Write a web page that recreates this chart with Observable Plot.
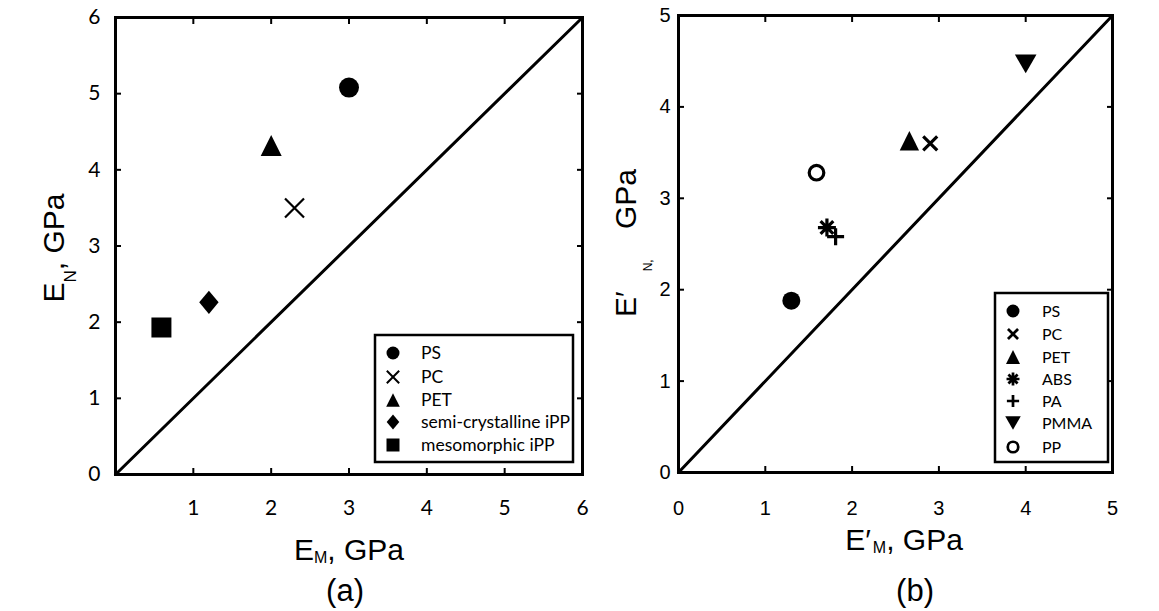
<!DOCTYPE html>
<html><head><meta charset="utf-8">
<script src="https://cdn.jsdelivr.net/npm/d3@7"></script>
<script src="https://cdn.jsdelivr.net/npm/@observablehq/plot@0.6"></script>
<style>
body{margin:0;background:#fff;}
#wrap{position:relative;width:1159px;height:611px;display:flex;overflow:hidden;}
#wrap svg{flex:none;overflow:visible;}
#pa g[aria-label$="tick label"] text{font-size:21px !important;font-family:Lato,'Open Sans',sans-serif !important;}
#pb g[aria-label$="tick label"] text{font-size:20px !important;font-family:'Liberation Sans',Arial,sans-serif !important;}
</style></head><body><div id="wrap"></div>
<script>
// ---------- Panel (a) data ----------
const namesA = ["PS", "PC", "PET", "semi-crystalline iPP", "mesomorphic iPP"];
const emA = [3.0, 2.3, 2.0, 1.2, 0.59];      // E_M, GPa
const enA = [5.08, 3.5, 4.32, 2.26, 1.93];    // E_N, GPa
const xDomainA = [0, 6];
const yDomainA = [0, 6];
const xTicksA = [1, 2, 3, 4, 5, 6];
const yTicksA = [0, 1, 2, 3, 4, 5, 6];

// ---------- Panel (b) data ----------
const namesB = ["PS", "PC", "PET", "ABS", "PA", "PMMA", "PP"];
const emB = [1.30, 2.90, 2.66, 1.71, 1.81, 4.00, 1.59];   // E'_M, GPa
const enB = [1.88, 3.60, 3.63, 2.68, 2.58, 4.47, 3.28];   // E'_N, GPa
const xDomainB = [0, 5];
const yDomainB = [0, 5];
const xTicksB = [0, 1, 2, 3, 4, 5];
const yTicksB = [0, 1, 2, 3, 4, 5];

// ---------- custom marker shapes (size = PI r^2, r = half width) ----------
const mk = fn => ({draw(c, size) { const r = Math.sqrt(size / Math.PI); fn(c, r); }});
const SYM = {
  circle: mk((c, r) => { c.moveTo(r, 0); c.arc(0, 0, r, 0, 2 * Math.PI); }),
  square: mk((c, r) => { c.rect(-r, -r, 2 * r, 2 * r); }),
  triUp: mk((c, r) => { c.moveTo(0, -r); c.lineTo(r, r); c.lineTo(-r, r); c.closePath(); }),
  triDown: mk((c, r) => { const h = 0.87 * r; c.moveTo(-r, -h); c.lineTo(r, -h); c.lineTo(0, h); c.closePath(); }),
  diamond: mk((c, r) => { c.moveTo(0, -1.2 * r); c.lineTo(r, 0); c.lineTo(0, 1.2 * r); c.lineTo(-r, 0); c.closePath(); }),
  times: mk((c, r) => { c.moveTo(-r, -r); c.lineTo(r, r); c.moveTo(-r, r); c.lineTo(r, -r); }),
  plus: mk((c, r) => { c.moveTo(-r, 0); c.lineTo(r, 0); c.moveTo(0, -r); c.lineTo(0, r); }),
  asterisk: mk((c, r) => { for (let k = 0; k < 4; k++) { const a = k * Math.PI / 4; c.moveTo(-r * Math.cos(a), -r * Math.sin(a)); c.lineTo(r * Math.cos(a), r * Math.sin(a)); } })
};

// marker styles per material (kept apart from the values)
const styleA = {
  "PS": {sym: "circle", r: 10, fill: true},
  "PC": {sym: "times", r: 9.5, fill: false, sw: 2.2},
  "PET": {sym: "triUp", r: 10.5, fill: true},
  "semi-crystalline iPP": {sym: "diamond", r: 9.7, fill: true},
  "mesomorphic iPP": {sym: "square", r: 10, fill: true}
};
const styleB = {
  "PS": {sym: "circle", r: 9, fill: true},
  "PC": {sym: "times", r: 7, fill: false, sw: 3.2},
  "PET": {sym: "triUp", r: 9.7, fill: true},
  "ABS": {sym: "asterisk", r: 9, fill: false, sw: 3.2},
  "PA": {sym: "plus", r: 8.5, fill: false, sw: 3.2},
  "PMMA": {sym: "triDown", r: 10.8, fill: true},
  "PP": {sym: "circle", r: 7.3, fill: false, sw: 3.2, open: true}
};

function dotMarks(names, xs, ys, style) {
  return names.map((n, i) => {
    const s = style[n];
    return Plot.dot([{name: n, x: xs[i], y: ys[i]}], {
      x: "x", y: "y", symbol: SYM[s.sym], r: s.r,
      fill: s.fill ? "black" : (s.open ? "white" : "none"),
      stroke: s.fill ? "none" : "black",
      strokeWidth: s.sw || 0
    });
  });
}

const fmt = d3.format("d");
function panel(o) {
  const ends = [{x: o.xDomain[0], y: o.yDomain[0]}, {x: o.xDomain[1], y: o.yDomain[1]}];
  const svg = Plot.plot({
    width: o.width, height: 611,
    marginLeft: o.ml, marginRight: o.mr, marginTop: o.mt, marginBottom: o.mb,
    style: {fontFamily: o.font, fontSize: o.fs + "px", color: "black", background: "white"},
    x: {domain: o.xDomain},
    y: {domain: o.yDomain},
    marks: [
      Plot.line(ends, {x: "x", y: "y", stroke: "black", strokeWidth: 3}),
      Plot.axisX({anchor: "bottom", ticks: o.xTicks, tickFormat: fmt, tickSize: -6, tickPadding: o.xpad, strokeWidth: 2, label: null, fontSize: o.fs}),
      Plot.axisX({anchor: "top", ticks: o.xTicks, tickSize: -6, tickFormat: () => "", strokeWidth: 2, label: null}),
      Plot.axisY({anchor: "left", ticks: o.yTicks, tickFormat: fmt, tickSize: -6, tickPadding: o.ypad, strokeWidth: 2, label: null, fontSize: o.fs}),
      Plot.axisY({anchor: "right", ticks: o.yTicks, tickSize: -6, tickFormat: () => "", strokeWidth: 2, label: null}),
      ...dotMarks(o.names, o.xs, o.ys, o.style),
      Plot.frame({stroke: "black", strokeWidth: 3})
    ]
  });
  svg.setAttribute("id", o.id);
  return svg;
}

const wrap = document.getElementById("wrap");

const svgA = panel({
  id: "pa", width: 600, ml: 115, mr: 18, mt: 17, mb: 137, fs: 21,
  font: "Lato, 'Open Sans', sans-serif", xpad: 32, ypad: 21,
  xDomain: xDomainA, yDomain: yDomainA, xTicks: xTicksA, yTicks: yTicksA,
  names: namesA, xs: emA, ys: enA, style: styleA
});
const svgB = panel({
  id: "pb", width: 559, ml: 78, mr: 47, mt: 15, mb: 139, fs: 20,
  font: "'Liberation Sans', Arial, sans-serif", xpad: 34, ypad: 14,
  xDomain: xDomainB, yDomain: yDomainB, xTicks: xTicksB, yTicks: yTicksB,
  names: namesB, xs: emB, ys: enB, style: styleB
});
wrap.appendChild(svgA);
wrap.appendChild(svgB);

// ---------- legends ----------
function legend(svg, names, style, box, rows, mx, tx, fs, scale) {
  const g = d3.select(svg).append("g").attr("text-anchor", "start");
  g.append("rect").attr("x", box[0]).attr("y", box[1]).attr("width", box[2]).attr("height", box[3])
    .attr("fill", "white").attr("stroke", "black").attr("stroke-width", 2.5);
  names.forEach((n, i) => {
    const s = style[n];
    const r = s.r * scale;
    g.append("path")
      .attr("transform", `translate(${mx},${rows[i]})`)
      .attr("d", d3.symbol().type(SYM[s.sym]).size(Math.PI * r * r)())
      .attr("fill", s.fill ? "black" : (s.open ? "white" : "none"))
      .attr("stroke", s.fill ? "none" : "black")
      .attr("stroke-width", s.fill ? 0 : Math.max(2, (s.sw || 2) * 0.85));
    g.append("text").attr("x", tx).attr("y", rows[i]).attr("dy", "0.36em")
      .attr("text-anchor", "start")
      .attr("font-family", "Lato, 'Open Sans', sans-serif").attr("font-size", fs).attr("fill", "black")
      .text(n);
  });
}
legend(svgA, namesA, styleA, [375, 335, 198, 127], [353, 377, 400, 422, 445], 393, 421, 17.5, 0.65);
legend(svgB, namesB, styleB, [395, 293, 113, 169], [311, 334, 357, 379, 401, 423, 447], 413, 442, 16, 0.72);

// ---------- axis titles ----------
const AR = "'Liberation Sans', Arial, sans-serif";
function addText(svg, x, y, rot, anchor, parts) {
  const t = d3.select(svg).append("text")
    .attr("transform", `translate(${x},${y}) rotate(${rot})`)
    .attr("text-anchor", anchor).attr("font-family", AR).attr("fill", "black");
  parts.forEach(p => {
    const s = t.append("tspan").attr("font-size", p.fs).text(p.t);
    if (p.dy) s.attr("dy", p.dy);
    if (p.dx) s.attr("dx", p.dx);
  });
}
// (a)
addText(svgA, 349, 560, 0, "middle", [{t: "E", fs: 30}, {t: "M", fs: 16, dy: 3}, {t: ", GPa", fs: 30, dy: -3}]);
addText(svgA, 345, 601, 0, "middle", [{t: "(a)", fs: 31}]);
addText(svgA, 64, 248, -90, "middle", [{t: "E", fs: 30}, {t: "N", fs: 17, dy: 12}, {t: ", GPa", fs: 30, dy: -12}]);
// (b)
addText(svgB, 304, 550, 0, "middle", [{t: "E′", fs: 30}, {t: "M", fs: 16, dy: 3, dx: 2}, {t: ", GPa", fs: 30, dy: -3}]);
addText(svgB, 315, 601, 0, "middle", [{t: "(b)", fs: 31}]);
addText(svgB, 36, 317, -90, "start", [{t: "E′", fs: 30}, {t: "N", fs: 12, dy: 16, dx: 20}, {t: ",", fs: 12}, {t: " GPa", fs: 30, dy: -16, dx: 22}]);
</script>
</body></html>
